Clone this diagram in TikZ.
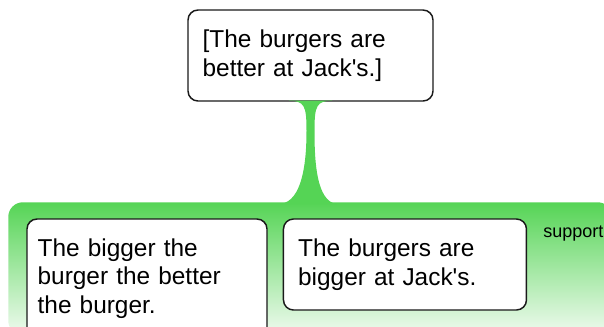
\documentclass[tikz,border=0pt]{standalone}
\usepackage{fontspec}
\setmainfont{Liberation Sans}
\usetikzlibrary{positioning,calc}
\definecolor{arggreen}{RGB}{85,212,85}
\definecolor{argpale}{RGB}{240,251,240}
\definecolor{argline}{RGB}{26,26,26}
\newcommand*{\apos}{\textquotesingle}

\begin{document}
\begin{tikzpicture}[x=0.75pt,y=-0.75pt]
	\tikzstyle{premise}=[rectangle, draw=argline, line width=1.1pt, rounded corners=7.5pt, fill=white,
	text=black, align=left, inner xsep=11pt, font=\fontsize{18.3}{21.5}\selectfont]
	\tikzstyle{group}=[rectangle, rounded corners=11pt, top color=arggreen, bottom color=argpale, inner sep=0pt]
	\useasboundingbox (0,0) rectangle (604,326);
	\node (Group) [group, minimum width=453pt, minimum height=99.75pt, anchor=north west] at (8,202) {};
	\node (Claim) [premise, text width=161.75pt, minimum height=68.25pt] at (310.5,55.5)
	{[The burgers are\\better at Jack\apos s.]};
	\node (ReasonA) [premise, inner xsep=8pt, text width=164pt, minimum height=89.25pt] at (147,278.5)
	{The bigger the\\burger the better\\the burger.};
	\node (ReasonB) [premise, text width=160.25pt, minimum height=68.25pt,
	right=11.25pt of ReasonA.north east, anchor=north west]
	{The burgers are\\bigger at Jack\apos s.};
	\node (Support) [font=\fontsize{13.5}{16}\selectfont, anchor=base west, inner sep=0pt] at (543,237) {support};
	
	\coordinate (StemTop) at ($(Claim.south)+(0,-1)$);
	\coordinate (StemFoot) at (Claim.south |- Group.north);
	\fill[arggreen] ($(StemTop)+(-22,0)$) .. controls ($(StemTop)+(-6,0)$) and ($(StemTop)+(-4,5)$) .. ($(StemTop)+(-4,30)$)
	.. controls ($(StemFoot)+(-4,-40)$) and ($(StemFoot)+(-8,-1)$) .. ($(StemFoot)+(-30,2)$)
	-- ($(StemFoot)+(26,2)$)
	.. controls ($(StemFoot)+(6,-1)$) and ($(StemFoot)+(4,-40)$) .. ($(StemTop)+(4,30)$)
	.. controls ($(StemTop)+(4,5)$) and ($(StemTop)+(6,0)$) .. ($(StemTop)+(22,0)$) -- cycle;
\end{tikzpicture}
\end{document}
